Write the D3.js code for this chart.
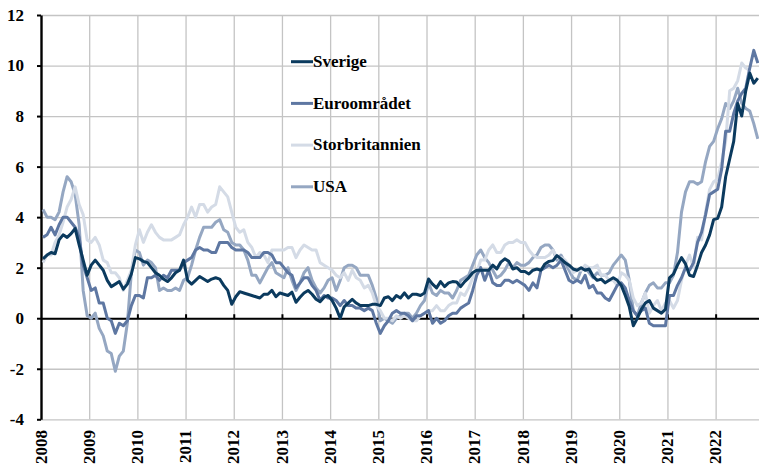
<!DOCTYPE html>
<html lang="sv">
<head>
    <meta charset="utf-8">
    <script type="text/javascript" src="https://d3js.org/d3.v7.min.js"></script>
</head>
<style>
    body { margin: 0; background: #fff; }
    text { font-family: "Liberation Serif", "Times New Roman", serif; font-weight: bold; font-size: 17px; fill: #000; }
</style>
<body>
<div id="chart"></div>
<script type="text/javascript">
  // monthly values, jan 2008 onwards
  const years = d3.range(2008, 2023);
  const yTicks = d3.range(-4, 13, 2);
  const seriesNames = ["Sverige", "Euroområdet", "Storbritannien", "USA"];
  const seriesColors = ["#0b3a5e", "#5e77a2", "#d4dbe6", "#95a7c2"];

  const sverige = [
    2.35, 2.5, 2.6, 2.55, 3.1, 3.3, 3.2, 3.35, 3.55, 2.9, 2.3, 1.7,
    2.1, 2.3, 2.1, 1.9, 1.5, 1.25, 1.35, 1.45, 1.15, 1.35, 1.75, 2.4,
    2.35, 2.25, 2.2, 2.0, 1.8, 1.7, 1.55, 1.45, 1.6, 1.8, 1.9, 2.3,
    1.5, 1.35, 1.5, 1.65, 1.55, 1.45, 1.55, 1.6, 1.55, 1.3, 1.1, 0.55,
    0.85, 1.05, 1.0, 0.95, 0.9, 0.85, 0.8, 0.95, 0.95, 1.1, 0.85, 1.0,
    0.95, 0.9, 1.03, 0.63, 0.83, 1.0, 1.1, 0.95, 0.75, 0.65, 0.83, 0.9,
    0.7, 0.4, 0.0, 0.45, 0.6, 0.75, 0.6, 0.5, 0.5, 0.5, 0.55, 0.55,
    0.5, 0.8, 0.85, 0.7, 0.9, 0.8, 1.0, 0.8, 0.95, 0.95, 0.9, 1.0,
    1.55, 1.35, 1.2, 1.45, 1.25, 1.4, 1.45, 1.43, 1.25, 1.45, 1.6, 1.8,
    1.9, 1.9, 1.9, 1.9, 2.1, 1.95, 2.22, 2.35, 2.25, 1.95, 2.0, 1.85,
    1.85, 1.75, 1.9, 1.95, 1.9, 2.15, 2.25, 2.28, 2.48, 2.35, 2.2, 2.1,
    1.95, 1.9, 2.0, 1.9, 1.95, 1.65, 1.5, 1.55, 1.4, 1.5, 1.6, 1.5,
    1.3, 0.9, 0.45, -0.3, 0.0, 0.35, 0.6, 0.7, 0.4, 0.3, 0.2, 0.35,
    1.6, 1.75, 2.1, 2.4, 2.15, 1.7, 1.65, 2.1, 2.6, 2.9, 3.3, 3.9,
    3.95, 4.4, 5.6, 6.3, 7.0, 8.5, 8.0, 9.0, 9.7, 9.3, 9.5
  ];

  const euroomradet = [
    3.2, 3.3, 3.6, 3.3, 3.7, 4.0, 4.0, 3.8, 3.6, 3.2, 2.1, 1.6,
    1.1, 1.2, 0.6, 0.6, 0.0, -0.1, -0.6, -0.2, -0.3, -0.1, 0.5, 0.9,
    0.9, 0.8, 1.6, 1.6, 1.7, 1.5, 1.7, 1.6, 1.9, 1.9, 1.9, 2.2,
    2.3, 2.4, 2.7, 2.8, 2.7, 2.7, 2.6, 2.6, 3.0, 3.0, 3.0, 2.8,
    2.7, 2.7, 2.7, 2.6, 2.4, 2.4, 2.4, 2.6, 2.6, 2.5, 2.2, 2.2,
    2.0, 1.8, 1.7, 1.2, 1.4, 1.6, 1.6, 1.3, 1.1, 0.7, 0.9, 0.8,
    0.8, 0.7, 0.5, 0.7, 0.5, 0.5, 0.4, 0.4, 0.3, 0.4, 0.3, -0.2,
    -0.6, -0.3, -0.1, 0.2, 0.3, 0.2, 0.2, 0.1, -0.1, 0.1, 0.1, 0.2,
    0.3, -0.2, 0.0, -0.2, -0.1, 0.1, 0.2, 0.2, 0.4, 0.5, 0.6, 1.1,
    1.7, 2.0, 1.5, 1.9, 1.4, 1.3, 1.3, 1.5, 1.5, 1.4, 1.5, 1.4,
    1.3, 1.1, 1.4, 1.2, 1.9, 2.0, 2.1, 2.0, 2.1, 2.3, 1.9, 1.5,
    1.4, 1.5, 1.4, 1.7, 1.2, 1.3, 1.0, 1.0, 0.8, 0.7, 1.0, 1.3,
    1.4, 1.2, 0.7, 0.3, 0.1, 0.3, 0.4, -0.2, -0.3, -0.3, -0.3, -0.3,
    0.9, 0.9, 1.3, 1.6, 2.0, 1.9, 2.2, 3.0, 3.4, 4.1, 4.9, 5.0,
    5.1, 5.9, 7.4, 7.4, 8.1, 8.6, 8.9, 9.1, 9.9, 10.6, 10.1
  ];

  const storbritannien = [
    2.2, 2.5, 2.5, 3.0, 3.3, 3.8, 4.4, 4.7, 5.2, 4.5, 4.1, 3.1,
    3.0, 3.2, 2.9, 2.3, 2.2, 1.8, 1.8, 1.6, 1.1, 1.5, 1.9, 2.9,
    3.5, 3.0, 3.4, 3.7, 3.4, 3.2, 3.1, 3.1, 3.1, 3.2, 3.3, 3.7,
    4.0, 4.4, 4.0, 4.5, 4.5, 4.2, 4.4, 4.5, 5.2, 5.0, 4.8, 4.2,
    3.6, 3.4, 3.5, 3.0, 2.8, 2.4, 2.6, 2.5, 2.2, 2.7, 2.7, 2.7,
    2.7, 2.8, 2.8, 2.4, 2.7, 2.9, 2.8, 2.7, 2.7, 2.2, 2.1, 2.0,
    1.9, 1.7, 1.6, 1.8, 1.5, 1.9, 1.6, 1.5, 1.2, 1.3, 1.0, 0.5,
    0.3, 0.0, 0.0, -0.1, 0.1, 0.0, 0.1, 0.0, -0.1, -0.1, 0.1, 0.2,
    0.3, 0.3, 0.5, 0.3, 0.3, 0.5, 0.6, 0.6, 1.0, 0.9, 1.2, 1.6,
    1.8, 2.3, 2.3, 2.7, 2.9, 2.6, 2.6, 2.9, 3.0, 3.0, 3.1, 3.0,
    3.0, 2.7, 2.5, 2.4, 2.4, 2.4, 2.5, 2.7, 2.4, 2.4, 2.3, 2.1,
    1.8, 1.9, 1.9, 2.1, 2.0, 2.0, 2.1, 1.7, 1.7, 1.5, 1.5, 1.3,
    1.8, 1.7, 1.5, 0.8, 0.5, 0.6, 1.0, 0.2, 0.5, 0.7, 0.3, 0.6,
    0.7, 0.4, 0.7, 1.5, 2.1, 2.5, 2.0, 3.2, 3.1, 4.2, 5.1, 5.4,
    5.5, 6.2, 7.0, 9.0, 9.1, 9.4, 10.1, 9.9, 9.8
  ];

  const usa = [
    4.3, 4.0, 4.0, 3.9, 4.2, 5.0, 5.6, 5.4, 4.9, 3.7, 1.1, 0.1,
    0.0, 0.2, -0.4, -0.7, -1.3, -1.4, -2.1, -1.5, -1.3, -0.2, 1.8, 2.7,
    2.6, 2.1, 2.3, 2.2, 2.0, 1.1, 1.2, 1.1, 1.1, 1.2, 1.1, 1.5,
    1.6, 2.1, 2.7, 3.2, 3.6, 3.6, 3.6, 3.8, 3.9, 3.5, 3.4, 3.0,
    2.9, 2.9, 2.7, 2.3, 1.7, 1.7, 1.4, 1.7, 2.0, 2.2, 1.8, 1.7,
    1.6, 2.0, 1.5, 1.1, 1.4, 1.8, 2.0, 1.5, 1.2, 1.0, 1.2, 1.5,
    1.6, 1.1, 1.5, 2.0, 2.1, 2.1, 2.0, 1.7, 1.7, 1.7, 1.3, 0.8,
    -0.1, 0.0, -0.1, -0.2, 0.0, 0.1, 0.2, 0.2, 0.0, 0.2, 0.5, 0.7,
    1.4, 1.0, 0.9, 1.1, 1.0, 1.0, 0.8, 1.1, 1.5, 1.6, 1.7, 2.1,
    2.5, 2.7, 2.4, 2.2, 1.9, 1.6, 1.7, 1.9, 2.2, 2.0, 2.2, 2.1,
    2.1, 2.2, 2.4, 2.5, 2.8, 2.9, 2.9, 2.7, 2.3, 2.5, 2.2, 1.9,
    1.6, 1.5, 1.9, 2.0, 1.8, 1.6, 1.8, 1.7, 1.7, 1.8, 2.1, 2.3,
    2.5, 2.3, 1.5, 0.3, 0.1, 0.6, 1.0, 1.3, 1.4, 1.2, 1.2, 1.4,
    1.4, 1.7, 2.6, 4.2, 5.0, 5.4, 5.4, 5.3, 5.4, 6.2, 6.8, 7.0,
    7.5, 7.9, 8.5, 8.3, 8.6, 9.1, 8.5, 8.3, 8.2, 7.7, 7.1
  ];

  const seriesValues = [sverige, euroomradet, storbritannien, usa];

  const svgWidth = 759, svgHeight = 471;
  const svg = d3.select("#chart")
    .append("svg")
    .attr("width", svgWidth)
    .attr("height", svgHeight);

  // x in decimal years, jan 2008 at the axis
  const x = d3.scaleLinear().domain([2008, 2022.9]).range([41, 759]);
  const y = d3.scaleLinear().domain([-4, 12]).range([419.3, 15]);

  // grid
  svg.append("g")
    .attr("transform", "translate(41,0)")
    .call(d3.axisLeft(y).tickValues(yTicks).tickSize(-718).tickFormat(""))
    .call(g => g.select(".domain").remove())
    .selectAll("line").attr("stroke", "#c4c4c4").attr("stroke-width", 1.3);

  svg.append("g")
    .attr("transform", "translate(0,15)")
    .call(d3.axisBottom(x).tickValues(years.slice(1)).tickSize(404.3).tickFormat(""))
    .call(g => g.select(".domain").remove())
    .selectAll("line").attr("stroke", "#c4c4c4").attr("stroke-width", 1.3);

  // zero line with year ticks
  svg.append("g")
    .attr("transform", "translate(0," + y(0) + ")")
    .call(d3.axisTop(x).tickValues(years.slice(1)).tickSize(4).tickSizeOuter(0).tickFormat(""))
    .call(g => g.select(".domain").attr("stroke", "#000").attr("stroke-width", 2.2))
    .selectAll("line").attr("stroke", "#000").attr("stroke-width", 2);

  // y axis, plain hyphen for negatives
  const yAxis = svg.append("g")
    .attr("transform", "translate(41,0)")
    .call(d3.axisLeft(y).tickValues(yTicks).tickSize(4).tickSizeOuter(0).tickPadding(13)
      .tickFormat(d => String(d)));
  yAxis.select(".domain").attr("stroke", "#000").attr("stroke-width", 2.4);
  yAxis.selectAll("line").attr("stroke", "#000").attr("stroke-width", 2);
  yAxis.selectAll("text").attr("font-size", null).attr("font-family", null);

  // year labels, rotated
  svg.append("g").selectAll("text")
    .data(years)
    .join("text")
    .attr("transform", d => "translate(" + x(d) + ",430)rotate(-90)")
    .attr("text-anchor", "end")
    .attr("dy", "0.33em")
    .text(d => d);

  // series, each month drawn at its middle
  const line = d3.line()
    .x((d, i) => x(2008 + (i + 0.5) / 12))
    .y(d => y(d));

  const order = [3, 2, 1, 0];
  svg.append("g").selectAll("path")
    .data(order)
    .join("path")
    .attr("fill", "none")
    .attr("stroke", i => seriesColors[i])
    .attr("stroke-width", 3)
    .attr("stroke-linejoin", "round")
    .attr("d", i => line(seriesValues[i]));

  // legend
  const legend = svg.append("g").selectAll("g")
    .data(seriesNames)
    .join("g")
    .attr("transform", (d, i) => "translate(291," + (61.7 + i * 41.7) + ")");

  legend.append("line")
    .attr("x1", 0).attr("x2", 22)
    .attr("stroke", (d, i) => seriesColors[i])
    .attr("stroke-width", 3);

  legend.append("text")
    .attr("x", 22)
    .attr("dy", "0.3em")
    .text(d => d);
</script>
</body>

</html>
